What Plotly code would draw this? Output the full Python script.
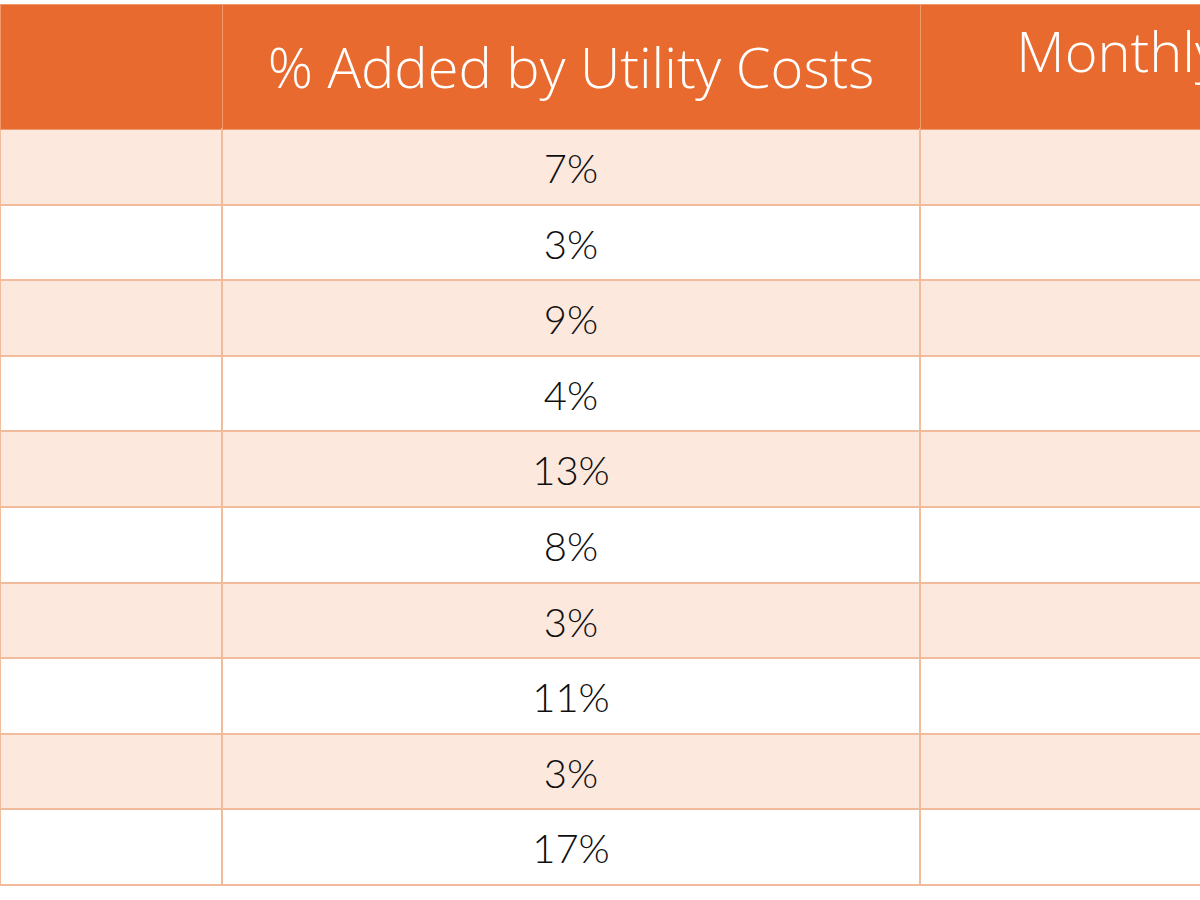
import plotly.graph_objects as go

# Data
header_labels = ["", "% Added by Utility Costs", "Monthly Utility Costs"]
pct_added = [7, 3, 9, 4, 13, 8, 3, 11, 3, 17]
row_labels = [""] * len(pct_added)
monthly_col = [""] * len(pct_added)

ORANGE = "#E96A2E"
PEACH = "#FCE8DD"
WHITE = "#FFFFFF"
LINE = "#F2BC9C"

HEADER_PX = 56
CELL_PX = 40


def lift(text, px):
    # blank spacer line above, real text in its own font size
    if not text:
        return ""
    return f"&nbsp;<br><span style='font-size:{px}px'>{text}</span>"


header_text = [lift(t, HEADER_PX) for t in header_labels]
pct_text = [lift(f"{v}%", CELL_PX) for v in pct_added]

row_fill = [PEACH if i % 2 == 0 else WHITE for i in range(len(pct_added))]

fig = go.Figure(
    go.Table(
        columnwidth=[222, 698, 706],
        header=dict(
            values=header_text,
            fill_color=ORANGE,
            line=dict(color="#F09A6C", width=1),
            font=dict(family="'Open Sans', sans-serif", size=[19, 32, 19],
                      color="white", weight=300),
            align="center",
            height=125,
        ),
        cells=dict(
            values=[row_labels, pct_text, monthly_col],
            fill_color=[row_fill, row_fill, row_fill],
            line=dict(color=LINE, width=2),
            font=dict(family="Lato, sans-serif", size=20, color="#0F0F0F", weight=300),
            align="center",
            height=75.6,
        ),
    )
)

fig.update_layout(
    width=1626,
    height=900,
    margin=dict(l=0, r=0, t=4, b=0),
    paper_bgcolor="white",
)

fig.write_html(
    "out.html",
    post_script="document.body.style.margin='0';document.body.style.overflow='hidden';",
)
